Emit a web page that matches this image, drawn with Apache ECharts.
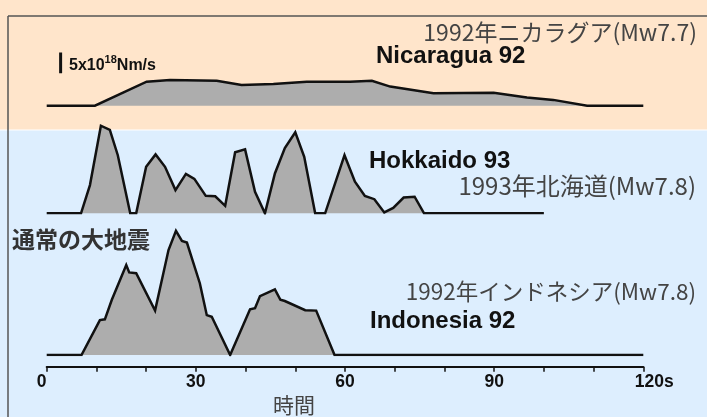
<!DOCTYPE html>
<html>
<head>
<meta charset="utf-8">
<script src="https://cdn.jsdelivr.net/npm/echarts@6/dist/echarts.min.js"></script>
<style>
html,body{margin:0;padding:0;background:#fff;}
#c{width:707px;height:417px;}
</style>
</head>
<body>
<div id="c"></div>
<script>
// ---- data (moment rate, units of 1e18 Nm/s; time in s) ----
const quakeNames = ['Nicaragua 92', 'Hokkaido 93', 'Indonesia 92'];
const quakeLabelsJa = ['1992年ニカラグア(Mw7.7)', '1993年北海道(Mw7.8)', '1992年インドネシア(Mw7.8)'];
const groupLabel = '通常の大地震';
const xAxisTitle = '時間';
const tickLabels = ['0', '30', '60', '90', '120s'];
const scaleBarText = ['5x10', '18', 'Nm/s'];
const scaleBarValue = 5;

const nicaraguaT = [0, 9.7, 20.1, 24.8, 34.2, 39.2, 45.6, 52.3, 61.0, 65.4, 69.1, 77.8, 89.9, 96.6, 101.9, 108.7, 120];
const nicaraguaM = [0, 0, 5.8, 6.2, 6.0, 5.0, 5.2, 5.8, 5.8, 6.0, 4.6, 3.0, 3.1, 2.0, 1.4, 0, 0];

const hokkaidoT = [0, 6.9, 8.7, 10.9, 12.7, 14.3, 16.8, 18.0, 20.0, 21.9, 23.8, 25.9, 28.0, 29.7, 32.0, 33.9, 35.9, 37.9, 39.9, 41.9, 43.9, 45.9, 47.9, 50.0, 51.8, 54.0, 56.0, 59.9, 62.0, 64.0, 65.9, 67.9, 69.7, 71.8, 74.0, 75.9, 100];
const hokkaidoM = [0, 0, 6.8, 21.1, 20.1, 14.0, 0, 0, 11.2, 14.2, 11.2, 5.6, 9.5, 8.3, 4.2, 4.1, 1.8, 14.7, 15.4, 5.2, 0, 9.6, 15.7, 19.5, 13.6, 0, 0, 14.0, 7.6, 4.2, 3.4, 0.2, 1.3, 3.8, 4.0, 0, 0];

const indonesiaT = [0, 7.0, 10.7, 11.7, 13.1, 16.0, 16.6, 18.0, 21.8, 24.5, 26.0, 27.2, 28.2, 30.8, 32.2, 33.2, 36.9, 40.9, 41.9, 42.9, 45.9, 47.0, 47.9, 52.0, 54.2, 57.9, 120];
const indonesiaM = [0, 0, 8.4, 8.6, 13.3, 21.7, 19.9, 19.7, 10.7, 25.3, 29.9, 27.5, 27.1, 17.3, 9.6, 9.2, 0, 11.0, 11.3, 14.2, 15.8, 13.3, 13.0, 10.8, 10.7, 0, 0];

// ---- layout ----
const PX = 4.15;             // pixels per 1e18 Nm/s
const LEFT = 46.7, RIGHT = 63.7, H = 417;
const baselines = [105.7, 213.3, 355];
const yMax = [13, 22, 31];
const scaleBarPos = { t: 2.8, from: 7.8 };

const zip = (t, m) => t.map((v, i) => [v, m[i]]);
const traces = [zip(nicaraguaT, nicaraguaM), zip(hokkaidoT, hokkaidoM), zip(indonesiaT, indonesiaM)];

const grids = baselines.map((b, i) => ({
  left: LEFT, right: RIGHT, top: b - yMax[i] * PX, height: yMax[i] * PX,
  containLabel: false, outerBoundsMode: 'none'
}));

const xAxes = baselines.map((b, i) => {
  const base = { type: 'value', gridIndex: i, min: 0, max: 120, interval: 30 };
  if (i < 2) return Object.assign(base, { show: false });
  return Object.assign(base, {
    offset: 11.7,
    axisLine: { show: true, onZero: false, lineStyle: { color: '#111', width: 2 } },
    axisTick: { show: true, inside: false, length: 5, lineStyle: { color: '#111', width: 1.5 } },
    minorTick: { show: true, splitNumber: 3, length: 5, lineStyle: { color: '#111', width: 1.5 } },
    splitLine: { show: false },
    axisLabel: {
      margin: 6, fontSize: 17.5, fontWeight: 'bold', fontFamily: 'Liberation Sans', color: '#111',
      formatter: v => {
        const s = tickLabels[Math.round(v / 30)];
        if (v === 0) return '{l|' + s + '}';
        if (v === 120) return '{r|' + s + '}';
        return s;
      },
      rich: {
        l: { padding: [0, 10, 0, 0], fontSize: 17.5, fontWeight: 'bold', fontFamily: 'Liberation Sans', color: '#111' },
        r: { padding: [0, 0, 0, 22], fontSize: 17.5, fontWeight: 'bold', fontFamily: 'Liberation Sans', color: '#111' }
      }
    }
  });
});

const yAxes = baselines.map((b, i) => ({ type: 'value', gridIndex: i, min: 0, max: yMax[i], show: false }));

const series = traces.map((d, i) => ({
  type: 'line', name: quakeNames[i], xAxisIndex: i, yAxisIndex: i,
  data: d, symbol: 'none', silent: true, animation: false,
  lineStyle: { color: '#111', width: 2.5, join: 'miter' },
  areaStyle: { color: '#adadad', opacity: 1 }
}));
series.push({
  type: 'line', xAxisIndex: 0, yAxisIndex: 0, symbol: 'none', animation: false,
  data: [[scaleBarPos.t, scaleBarPos.from], [scaleBarPos.t, scaleBarPos.from + scaleBarValue]],
  lineStyle: { color: '#111', width: 3 }
});

const jaFont = 'Noto Sans CJK JP';
const graphic = [
  { type: 'rect', z: -10, shape: { x: 0, y: 0, width: 707, height: 129.5 }, style: { fill: '#FFE5CB' } },
  { type: 'rect', z: -10, shape: { x: 0, y: 130.5, width: 707, height: 287 }, style: { fill: '#DDEEFE' } },
  { type: 'line', z: -5, shape: { x1: 8, y1: 16, x2: 707, y2: 16 }, style: { stroke: '#555', lineWidth: 1.5 } },
  { type: 'line', z: -5, shape: { x1: 8, y1: 16, x2: 8, y2: 417 }, style: { stroke: '#555', lineWidth: 1.5 } },
  { type: 'text', z: 100, x: 376, y: 56, style: { text: quakeNames[0], fill: '#111', font: 'bold 24px "Liberation Sans"', verticalAlign: 'middle', align: 'left' } },
  { type: 'text', z: 100, x: 369, y: 161, style: { text: quakeNames[1], fill: '#111', font: 'bold 24px "Liberation Sans"', verticalAlign: 'middle', align: 'left' } },
  { type: 'text', z: 100, x: 370, y: 321, style: { text: quakeNames[2], fill: '#111', font: 'bold 24px "Liberation Sans"', verticalAlign: 'middle', align: 'left' } },
  { type: 'text', z: 100, x: 697, y: 32, style: { text: quakeLabelsJa[0], fill: '#444', font: '23px "' + jaFont + '"', verticalAlign: 'middle', align: 'right' } },
  { type: 'text', z: 100, x: 696, y: 186, style: { text: quakeLabelsJa[1], fill: '#444', font: '24px "' + jaFont + '"', verticalAlign: 'middle', align: 'right' } },
  { type: 'text', z: 100, x: 696, y: 291, style: { text: quakeLabelsJa[2], fill: '#444', font: '22.5px "' + jaFont + '"', verticalAlign: 'middle', align: 'right' } },
  { type: 'text', z: 100, x: 12, y: 239, style: { text: groupLabel, fill: '#333', font: 'bold 23px "' + jaFont + '"', verticalAlign: 'middle', align: 'left' } },
  { type: 'text', z: 100, x: 294, y: 405, style: { text: xAxisTitle, fill: '#444', font: '21px "' + jaFont + '"', verticalAlign: 'middle', align: 'center' } },
  { type: 'text', z: 100, x: 69, y: 64, style: {
      text: '{a|' + scaleBarText[0] + '}{b|' + scaleBarText[1] + '}{a|' + scaleBarText[2] + '}',
      verticalAlign: 'middle', align: 'left',
      rich: {
        a: { fill: '#111', fontSize: 16, fontWeight: 'bold', fontFamily: 'Liberation Sans', lineHeight: 20, verticalAlign: 'bottom' },
        b: { fill: '#111', fontSize: 11, fontWeight: 'bold', fontFamily: 'Liberation Sans', lineHeight: 12, verticalAlign: 'top' }
      }
  } }
];

const chart = echarts.init(document.getElementById('c'), null, { renderer: 'canvas' });
chart.setOption({
  backgroundColor: '#ffffff',
  animation: false,
  grid: grids,
  xAxis: xAxes,
  yAxis: yAxes,
  series: series,
  graphic: graphic
});
</script>
</body>
</html>
